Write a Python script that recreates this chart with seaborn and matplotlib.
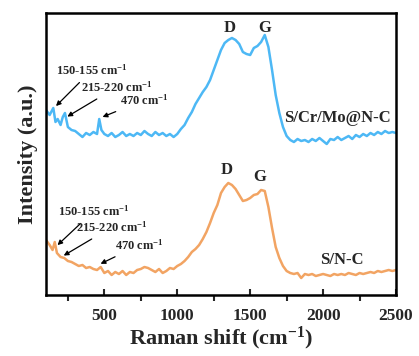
import numpy as np
import pandas as pd
import matplotlib
matplotlib.use("Agg")
import matplotlib.pyplot as plt
import seaborn as sns

# Raman shift (cm-1) and intensities (offset, a.u.)
shift_top = [100, 125, 150, 165, 180, 200, 215, 230, 250, 275, 300, 325, 350, 375, 400, 425, 450,
             465, 480, 500, 525, 550, 575, 600, 625, 650, 675, 700, 725, 750, 775, 800, 825, 850,
             875, 900, 925, 950, 975, 1000, 1025, 1050, 1075, 1100, 1125, 1150, 1175, 1200, 1225,
             1250, 1275, 1300, 1325, 1350, 1375, 1400, 1425, 1450, 1475, 1500, 1525, 1550, 1575,
             1600, 1625, 1650, 1675, 1700, 1725, 1750, 1775, 1800, 1825, 1850, 1875, 1900, 1925,
             1950, 1975, 2000, 2025, 2050, 2075, 2100, 2125, 2150, 2175, 2200, 2225, 2250, 2275,
             2300, 2325, 2350, 2375, 2400, 2425, 2450, 2475, 2500]
int_top = [185, 180, 187, 173, 176, 170, 178, 182, 168, 165, 164, 161, 158, 162, 160, 163, 161,
           176, 165, 161, 159, 162, 158, 160, 163, 159, 161, 159, 162, 160, 164, 161, 159, 163,
           160, 162, 159, 161, 158, 161, 166, 170, 177, 183, 191, 197, 203, 208, 215,
           225, 235, 245, 252, 255, 257, 255, 251, 243, 241, 240, 247, 249, 253,
           260, 248, 225, 200, 182, 168, 159, 155, 153, 156, 154, 155, 153, 156,
           154, 157, 154, 151, 156, 155, 158, 155, 157, 159, 156, 160, 158, 161,
           159, 162, 160, 163, 161, 164, 162, 163, 162]

shift_bot = [100, 125, 145, 160, 175, 200, 225, 250, 275, 300, 325, 350, 375, 400, 425, 450, 475,
             500, 525, 550, 575, 600, 625, 650, 675, 700, 725, 750, 775, 800, 825, 850, 875, 900,
             925, 950, 975, 1000, 1025, 1050, 1075, 1100, 1125, 1150, 1175, 1200, 1225, 1250,
             1275, 1300, 1325, 1350, 1375, 1400, 1425, 1450, 1475, 1500, 1525, 1550, 1575, 1600,
             1625, 1650, 1675, 1700, 1725, 1750, 1775, 1800, 1825, 1850, 1875, 1900, 1925, 1950,
             1975, 2000, 2025, 2050, 2075, 2100, 2125, 2150, 2175, 2200, 2225, 2250, 2275, 2300,
             2325, 2350, 2375, 2400, 2425, 2450, 2475, 2500]
int_bot = [55, 50, 45, 53, 42, 38, 37, 34, 33, 31, 29, 30, 27, 28, 26, 25, 28,
           22, 24, 20, 23, 21, 24, 20, 23, 22, 25, 26, 28, 27, 25, 23, 26, 22,
           24, 27, 26, 29, 31, 34, 38, 43, 46, 50, 56, 63, 72, 82,
           90, 102, 108, 112, 110, 106, 100, 94, 95, 97, 100, 101, 105, 104,
           88, 67, 48, 37, 29, 24, 22, 21, 22, 17, 21, 20, 21, 19,
           20, 21, 20, 19, 21, 20, 21, 20, 22, 21, 20, 22, 21, 22,
           23, 22, 24, 23, 24, 25, 24, 25]

df_top = pd.DataFrame({"shift": shift_top, "intensity": int_top})
df_bot = pd.DataFrame({"shift": shift_bot, "intensity": int_bot})

sns.set_style("ticks")
plt.rcParams['font.family'] = ['Liberation Serif', 'DejaVu Serif']
plt.rcParams['font.weight'] = 'bold'
plt.rcParams['mathtext.fontset'] = 'custom'
plt.rcParams['mathtext.rm'] = 'Liberation Serif:bold'
plt.rcParams['mathtext.bf'] = 'Liberation Serif:bold'
plt.rcParams['mathtext.default'] = 'bf'

blue = "#4DB8F5"
orange = "#F2A463"

fig, ax = plt.subplots(figsize=(4.19, 3.56), dpi=100)
fig.subplots_adjust(left=46/419, right=396/419, top=1-13/356, bottom=1-295/356)

sns.lineplot(data=df_top, x="shift", y="intensity", color=blue, lw=1.8, ax=ax)
sns.lineplot(data=df_bot, x="shift", y="intensity", color=orange, lw=1.8, ax=ax)

ax.set_xlim(100, 2500)
ax.set_ylim(0, 282)
ax.set_yticks([])
ax.set_xticks([500, 1000, 1500, 2000, 2500])
ax.set_xticks([250, 750, 1250, 1750, 2250], minor=True)
ax.tick_params(axis='x', which='major', direction='in', length=4, width=1.5, labelsize=12.5, pad=9)
ax.tick_params(axis='x', which='minor', direction='out', length=4, width=1.5)
for lab in ax.get_xticklabels():
    lab.set_fontweight('bold')
for s in ax.spines.values():
    s.set_linewidth(1.8)
    s.set_color('black')

ax.set_xlabel(r"Raman shift (cm$^{-1}$)", fontsize=16, fontweight='bold', labelpad=1)
ax.set_ylabel("Intensity (a.u.)", fontsize=16, fontweight='bold', labelpad=6)

fs = 9
arrow = dict(arrowstyle="-|>", color="black", lw=0.9, mutation_scale=7)
# upper curve labels
ax.annotate(r"150-155 cm$^{-1}$", xy=(155, 187), xytext=(169, 225), fontsize=fs, fontweight='bold',
            va='center', ha='left', arrowprops=arrow)
ax.annotate(r"215-220 cm$^{-1}$", xy=(230, 177), xytext=(340, 208), fontsize=fs, fontweight='bold',
            va='center', ha='left', arrowprops=arrow)
ax.annotate(r"470 cm$^{-1}$", xy=(470, 177), xytext=(607, 195), fontsize=fs, fontweight='bold',
            va='center', ha='left', arrowprops=arrow)
# lower curve labels
ax.annotate(r"150-155 cm$^{-1}$", xy=(165, 48), xytext=(182, 84), fontsize=fs, fontweight='bold',
            va='center', ha='left', arrowprops=arrow)
ax.annotate(r"215-220 cm$^{-1}$", xy=(205, 38), xytext=(306, 68), fontsize=fs, fontweight='bold',
            va='center', ha='left', arrowprops=arrow)
ax.annotate(r"470 cm$^{-1}$", xy=(457, 30), xytext=(573, 50), fontsize=fs, fontweight='bold',
            va='center', ha='left', arrowprops=arrow)

ax.text(1362, 267, "D", fontsize=12, fontweight='bold', ha='center', va='center')
ax.text(1602, 267, "G", fontsize=12, fontweight='bold', ha='center', va='center')
ax.text(1341, 125, "D", fontsize=12, fontweight='bold', ha='center', va='center')
ax.text(1567, 118, "G", fontsize=12, fontweight='bold', ha='center', va='center')
ax.text(2095, 177, "S/Cr/Mo@N-C", fontsize=12, fontweight='bold', ha='center', va='center')
ax.text(2130, 35, "S/N-C", fontsize=12, fontweight='bold', ha='center', va='center')

plt.savefig("out.png", dpi=100)
